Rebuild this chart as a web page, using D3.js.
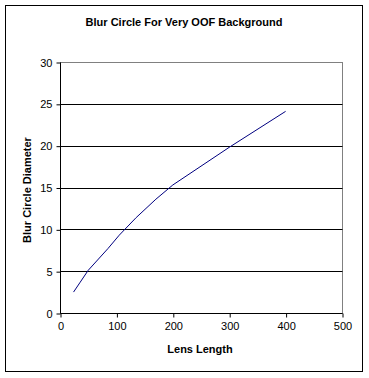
<!DOCTYPE html>
<html><head><meta charset="utf-8">
<script src="https://cdn.jsdelivr.net/npm/d3@7"></script>
<style>body{margin:0;background:#fff}svg{display:block}text{font-family:"Liberation Sans",Arial,sans-serif}</style>
</head><body>
<script>
const lensLength = [24, 35, 50, 85, 105, 135, 170, 200, 300, 400];
const blurDiameter = [2.5, 3.6, 5.1, 7.7, 9.3, 11.4, 13.6, 15.3, 19.8, 24.1];
const xTicks = [0, 100, 200, 300, 400, 500];
const yTicks = [0, 5, 10, 15, 20, 25, 30];
const title = "Blur Circle For Very OOF Background";
const xTitle = "Lens Length";
const yTitle = "Blur Circle Diameter";

const W = 369, H = 378;
const svg = d3.select("body").append("svg").attr("width", W).attr("height", H);
svg.append("rect").attr("x", 5.5).attr("y", 5.5).attr("width", 357).attr("height", 366)
  .attr("fill", "#fff").attr("stroke", "#000").attr("stroke-width", 1);

const L = 60, R = 342, T = 62, B = 313;
const x = d3.scaleLinear().domain([0, 500]).range([L, R]);
const y = d3.scaleLinear().domain([0, 30]).range([B, T]);

// plot border (gray)
svg.append("rect").attr("x", L + 0.5).attr("y", T + 0.5).attr("width", R - L).attr("height", B - T)
  .attr("fill", "none").attr("stroke", "#808080");

// gridlines
svg.append("g").selectAll("line").data(yTicks.filter(d => d > 0 && d < 30)).join("line")
  .attr("x1", L).attr("x2", R + 0.5)
  .attr("y1", d => Math.round(y(d)) + 0.5).attr("y2", d => Math.round(y(d)) + 0.5)
  .attr("stroke", "#000");

// axes
const yAxis = d3.axisLeft(y).tickValues(yTicks).tickSize(4).tickPadding(4).tickFormat(d3.format("d"));
const gy = svg.append("g").attr("transform", `translate(${L + 0.5},0.5)`).call(yAxis);
const xAxis = d3.axisBottom(x).tickValues(xTicks).tickSize(4).tickPadding(5).tickFormat(d3.format("d"));
const gx = svg.append("g").attr("transform", `translate(0.5,${B + 0.5})`).call(xAxis);
[gx, gy].forEach(g => {
  g.select(".domain").attr("stroke", "#000");
  g.selectAll(".tick line").attr("stroke", "#000");
  g.selectAll("text").attr("font-size", 11).attr("fill", "#000")
    .attr("font-family", "'Liberation Sans', Arial, sans-serif");
});
gy.select(".domain").attr("d", `M0,${B}V${T}`);
gx.select(".domain").attr("d", `M${L},0H${R}`);

// line
svg.append("path").datum(lensLength.map((d, i) => [d, blurDiameter[i]]))
  .attr("fill", "none").attr("stroke", "#000080").attr("stroke-width", 1)
  .attr("d", d3.line().x(d => x(d[0])).y(d => y(d[1])));

// titles
svg.append("text").attr("x", 184).attr("y", 26).attr("text-anchor", "middle")
  .attr("font-size", 11).attr("font-weight", "bold").text(title);
svg.append("text").attr("x", 200).attr("y", 353).attr("text-anchor", "middle")
  .attr("font-size", 11).attr("font-weight", "bold").text(xTitle);
svg.append("text").attr("transform", "translate(31,190) rotate(-90)").attr("text-anchor", "middle")
  .attr("font-size", 11).attr("font-weight", "bold").text(yTitle);
</script>
</body></html>
